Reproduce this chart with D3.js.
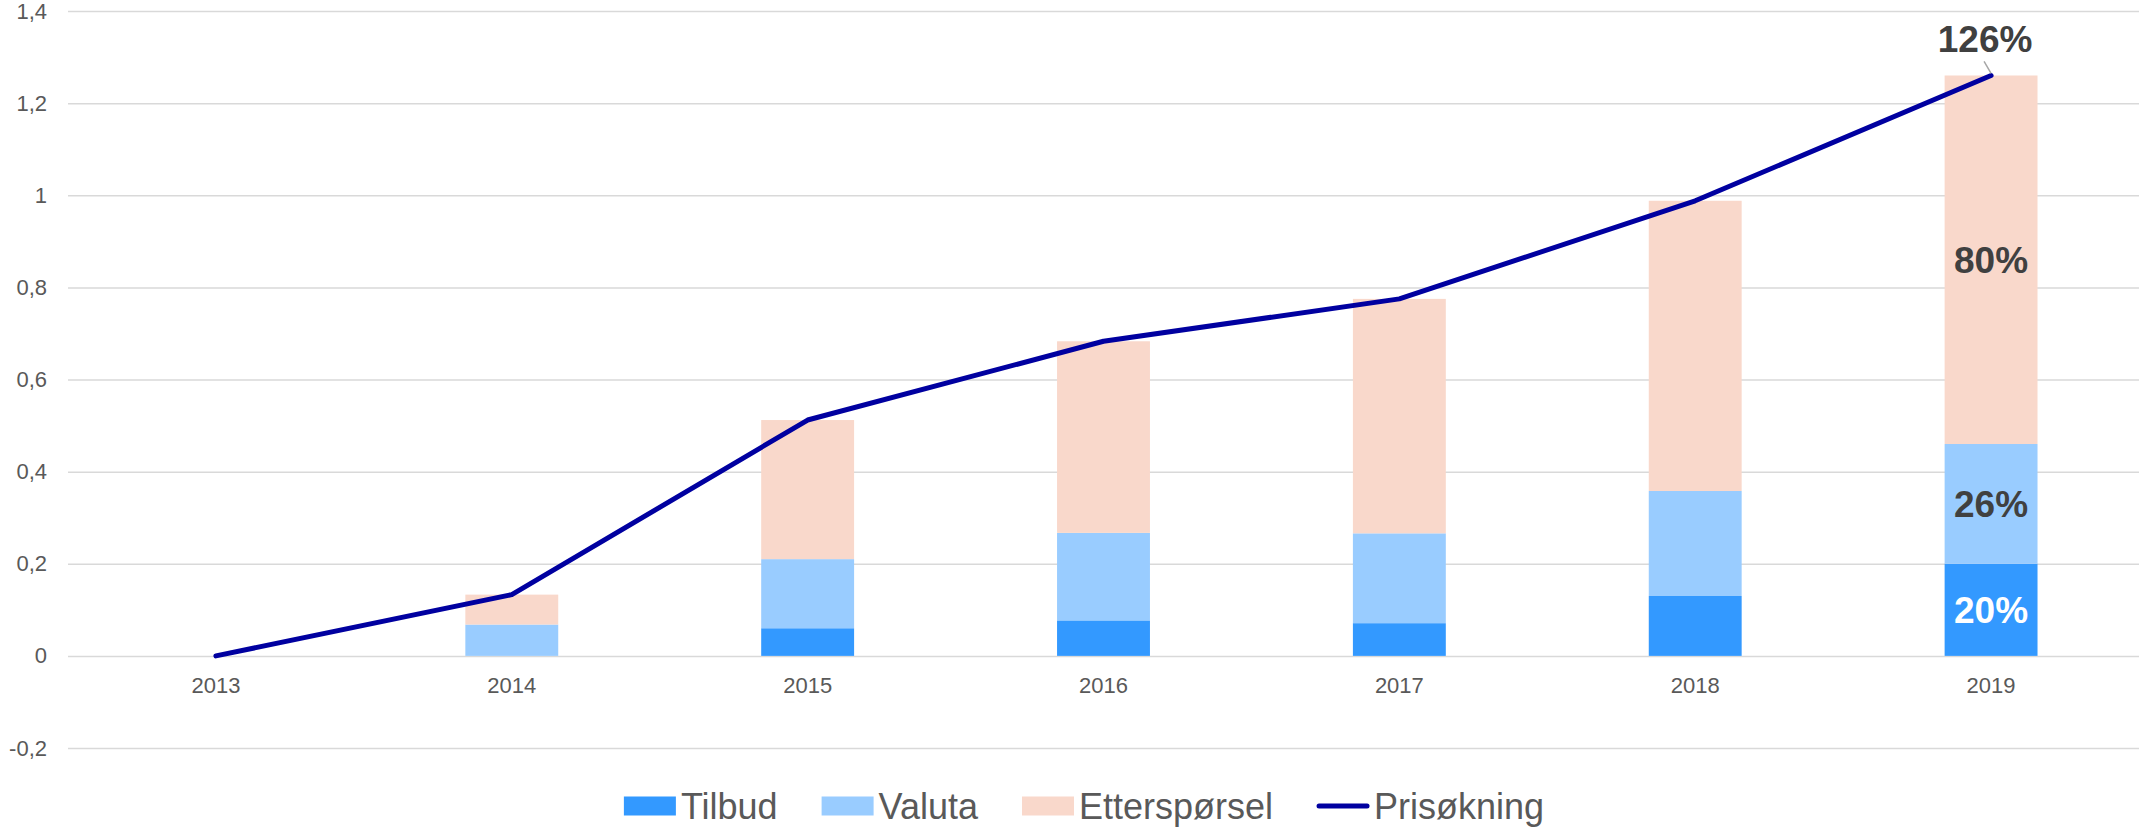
<!DOCTYPE html>
<html>
<head>
<meta charset="utf-8">
<script src="https://cdn.jsdelivr.net/npm/d3@7"></script>
<style>
  body { margin: 0; background: #fff; }
  svg { display: block; font-family: "Liberation Sans", Arial, sans-serif; }
</style>
</head>
<body>
<svg width="2139" height="827"></svg>
<script>
// data
var years = ['2013', '2014', '2015', '2016', '2017', '2018', '2019'];
var tilbud = [0, 0, 0.06, 0.077, 0.071, 0.13, 0.20];
var valuta = [0, 0.068, 0.15, 0.19, 0.195, 0.228, 0.26];
var etterspoersel = [0, 0.065, 0.302, 0.416, 0.509, 0.63, 0.80];
var prisokning = [0, 0.133, 0.512, 0.683, 0.775, 0.988, 1.26];
var yTicks = [-0.2, 0, 0.2, 0.4, 0.6, 0.8, 1, 1.2, 1.4];

var seriesNames = ['Tilbud', 'Valuta', 'Etterspørsel'];
var seriesColors = ['#3399ff', '#99ccff', '#f9d8cb'];
var lineColor = '#0000a0';

var svg = d3.select('svg');

var x = d3.scaleBand().domain(years).range([68, 2139]);
var y = d3.scaleLinear().domain([-0.2, 1.4]).range([748, 11]);
var barW = x.bandwidth() * 0.314;
var cx = function(yr) { return x(yr) + x.bandwidth() / 2; };

// norwegian style: comma decimal, plain hyphen for minus
var fmt = function(v) {
  return d3.format('.1f')(v).replace('.0', '').replace('.', ',').replace('\u2212', '-');
};

// gridlines + y labels
var yAxis = svg.append('g').attr('transform', 'translate(68,0)')
  .call(d3.axisLeft(y).tickValues(yTicks).tickSize(-2071).tickPadding(21).tickFormat(fmt));
yAxis.select('.domain').remove();
yAxis.selectAll('line').attr('stroke', '#d9d9d9').attr('stroke-width', 1.5);
yAxis.selectAll('text').attr('fill', '#595959').style('font-size', '22px')
  .style('font-family', '"Liberation Sans", Arial, sans-serif');

// x labels
var xAxis = svg.append('g').attr('transform', 'translate(0,' + y(0) + ')')
  .call(d3.axisBottom(x).tickSize(0).tickPadding(22));
xAxis.select('.domain').remove();
xAxis.selectAll('text').attr('fill', '#595959').style('font-size', '22px')
  .style('font-family', '"Liberation Sans", Arial, sans-serif');

// stacked bars
var rows = years.map(function(yr, i) {
  return { year: yr, Tilbud: tilbud[i], Valuta: valuta[i], 'Etterspørsel': etterspoersel[i] };
});
var stacked = d3.stack().keys(seriesNames)(rows);

svg.append('g').selectAll('g')
  .data(stacked)
  .join('g')
  .attr('fill', function(d, i) { return seriesColors[i]; })
  .selectAll('rect')
  .data(function(d) { return d; })
  .join('rect')
  .attr('x', function(d) { return cx(d.data.year) - barW / 2; })
  .attr('width', barW)
  .attr('y', function(d) { return y(Math.max(d[0], d[1])); })
  .attr('height', function(d) { return Math.abs(y(d[0]) - y(d[1])); });

// line
var line = d3.line()
  .x(function(d, i) { return cx(years[i]); })
  .y(function(d) { return y(d); });

svg.append('path')
  .datum(prisokning)
  .attr('d', line)
  .attr('fill', 'none')
  .attr('stroke', lineColor)
  .attr('stroke-width', 5)
  .attr('stroke-linejoin', 'round')
  .attr('stroke-linecap', 'round');

// labels for last year
var last = years.length - 1;
var pct = function(v) { return Math.round(v * 100) + '%'; };
var segLabels = stacked.map(function(s, i) {
  var d = s[last];
  return { v: d[1] - d[0], mid: (d[0] + d[1]) / 2, color: i === 0 ? '#ffffff' : '#404040' };
});
svg.append('g').selectAll('text')
  .data(segLabels)
  .join('text')
  .attr('x', cx(years[last]))
  .attr('y', function(d) { return y(d.mid); })
  .attr('dy', '0.35em')
  .attr('text-anchor', 'middle')
  .attr('fill', function(d) { return d.color; })
  .style('font-size', '37px')
  .style('font-weight', 'bold')
  .text(function(d) { return pct(d.v); });

// total label with leader line
var px = cx(years[last]), py = y(prisokning[last]);
svg.append('line')
  .attr('x1', px - 7).attr('y1', py - 14)
  .attr('x2', px).attr('y2', py - 2)
  .attr('stroke', '#a6a6a6').attr('stroke-width', 1.5);
svg.append('text')
  .attr('x', px - 6)
  .attr('y', 52)
  .attr('text-anchor', 'middle')
  .attr('fill', '#404040')
  .style('font-size', '37px')
  .style('font-weight', 'bold')
  .text(pct(prisokning[last]));

// legend
var legendItems = seriesNames.map(function(n, i) { return { name: n, color: seriesColors[i], type: 'rect' }; })
  .concat([{ name: 'Prisøkning', color: lineColor, type: 'line' }]);
var legend = svg.append('g');
var lx = 0;
legendItems.forEach(function(it) {
  var g = legend.append('g').attr('transform', 'translate(' + lx + ',0)');
  if (it.type === 'rect') {
    g.append('rect').attr('x', 0).attr('y', -9.5).attr('width', 52).attr('height', 19).attr('fill', it.color);
  } else {
    g.append('line').attr('x1', 2).attr('x2', 50).attr('y1', 0).attr('y2', 0)
      .attr('stroke', it.color).attr('stroke-width', 5).attr('stroke-linecap', 'round');
  }
  var t = g.append('text').attr('x', 57).attr('y', 0).attr('dy', '0.35em')
    .attr('fill', '#595959').style('font-size', '36px').text(it.name);
  lx += 57 + t.node().getComputedTextLength() + 44;
});
var legendW = lx - 44;
legend.attr('transform', 'translate(' + (1084 - legendW / 2) + ',806)');
</script>
</body>
</html>
